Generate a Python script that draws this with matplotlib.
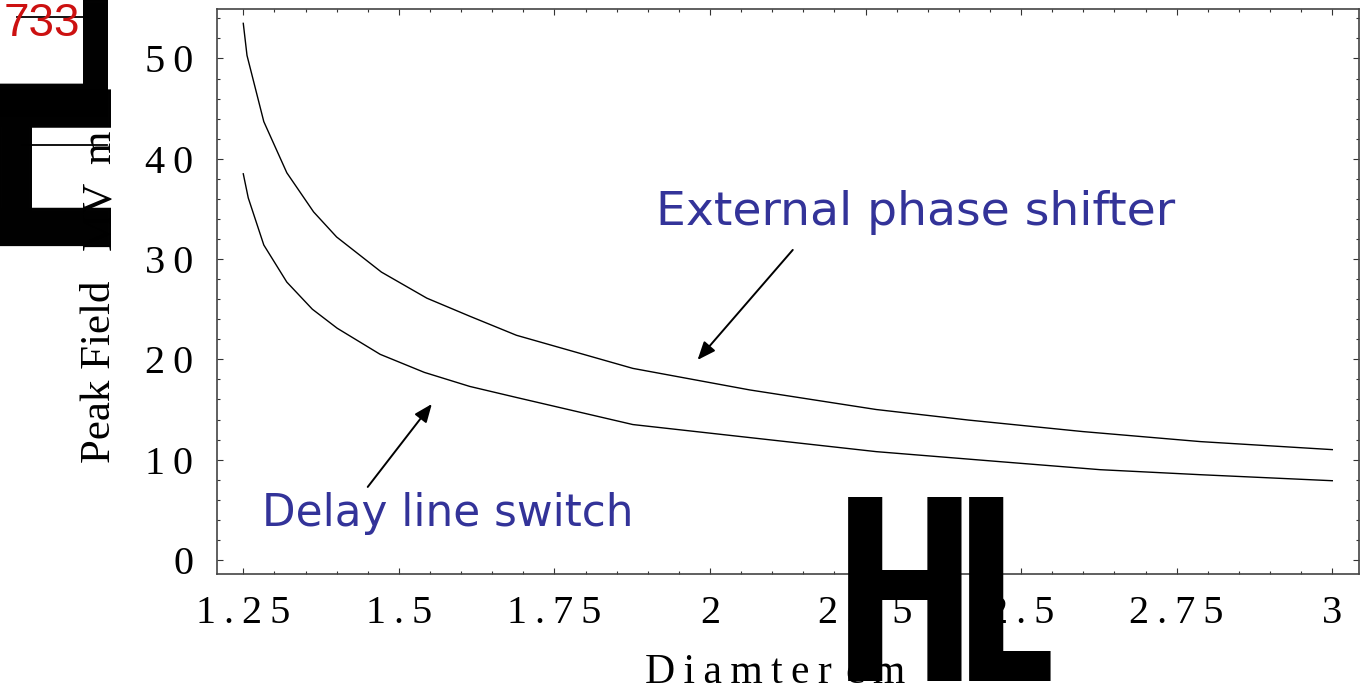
import os
import matplotlib
matplotlib.use('Agg')
import matplotlib.pyplot as plt
from matplotlib import font_manager as fm
from matplotlib.lines import Line2D
from matplotlib.ticker import FixedLocator, FixedFormatter, MultipleLocator

# curves
diam_ext = [1.25, 1.256, 1.283, 1.320, 1.363, 1.400, 1.472, 1.545, 1.614, 1.689,
            1.876, 2.064, 2.267, 2.415, 2.599, 2.788, 3.0]
field_ext = [53.5, 50.3, 43.7, 38.6, 34.7, 32.2, 28.7, 26.1, 24.3, 22.4,
             19.1, 16.95, 15.0, 13.95, 12.8, 11.8, 11.0]
diam_delay = [1.25, 1.258, 1.283, 1.320, 1.361, 1.401, 1.470, 1.541, 1.614, 1.689,
              1.876, 2.064, 2.267, 2.466, 2.627, 2.788, 3.0]
field_delay = [38.5, 36.1, 31.4, 27.7, 25.0, 23.1, 20.5, 18.7, 17.3, 16.2,
               13.5, 12.2, 10.8, 9.8, 9.0, 8.5, 7.9]

xticks = [1.25, 1.5, 1.75, 2.0, 2.25, 2.5, 2.75, 3.0]
xtick_labels = ['1.25', '1.5', '1.75', '2', '2.25', '2.5', '2.75', '3']
yticks = [0, 10, 20, 30, 40, 50]
ytick_labels = ['0', '10', '20', '30', '40', '50']

ext_label = 'External phase shifter'
delay_label = 'Delay line switch'

W, H = 1362, 686
SP = '\u2009'
SERIF = ['Liberation Serif', 'DejaVu Serif']
BLUE = '#333399'


def spaced(s):
    return SP.join(s)


def fx(px):
    return px / W


def fy(py):
    return 1 - py / H


# a narrow bold face for the big broken bracket glyphs, if one is installed
def narrow_bold(size):
    files = {os.path.basename(f): f for f in fm.findSystemFonts()}
    for name in ['LiberationSansNarrow-Bold.ttf', 'NotoSans-ExtraCondensedBold.ttf',
                 'NotoSans-CondensedBold.ttf', 'OpenSans-CondBold.ttf',
                 'DejaVuSansCondensed-Bold.ttf']:
        if name in files:
            return fm.FontProperties(fname=files[name], size=size)
    return fm.FontProperties(family=['Liberation Sans', 'DejaVu Sans'],
                             weight='bold', size=size)


fig = plt.figure(figsize=(W / 100, H / 100), dpi=100)
ax = fig.add_axes([fx(216.7), fy(573.7), (1359.3 - 216.7) / W, (573.7 - 9.3) / H])

ax.plot(diam_ext, field_ext, color='black', lw=1.0)
ax.plot(diam_delay, field_delay, color='black', lw=1.0)

ax.set_xlim(1.2073, 3.0434)
ax.set_ylim(-1.37, 54.9)

ax.xaxis.set_major_locator(FixedLocator(xticks))
ax.xaxis.set_major_formatter(FixedFormatter([spaced(t) for t in xtick_labels]))
ax.xaxis.set_minor_locator(MultipleLocator(0.05))
ax.yaxis.set_major_locator(FixedLocator(yticks))
ax.yaxis.set_major_formatter(FixedFormatter([spaced(t) for t in ytick_labels]))
ax.yaxis.set_minor_locator(MultipleLocator(2))

ax.tick_params(which='both', direction='in', top=True, right=True,
               color='#333333', width=0.8)
ax.tick_params(which='major', length=4.5)
ax.tick_params(which='minor', length=2.5)
ax.tick_params(axis='x', pad=15)
ax.tick_params(axis='y', pad=17)
for lab in ax.get_xticklabels() + ax.get_yticklabels():
    lab.set_family(SERIF)
    lab.set_fontsize(29)
for sp in ax.spines.values():
    sp.set_color('#444444')
    sp.set_linewidth(1.2)

# annotations
arrow = dict(arrowstyle='-|>,head_length=1.1,head_width=0.45',
             color='black', lw=1.4, shrinkA=0, shrinkB=0)
ax.annotate('', xy=(1.980, 19.94), xytext=(2.133, 30.91), arrowprops=arrow)
ax.annotate('', xy=(1.553, 15.55), xytext=(1.450, 7.28), arrowprops=arrow)
ax.text(1.913, 34.6, ext_label, color=BLUE, fontsize=34, va='center', ha='left',
        family='DejaVu Sans')
ax.text(1.280, 4.6, delay_label, color=BLUE, fontsize=31.5, va='center', ha='left',
        family='DejaVu Sans')

# axis labels (with the broken bracket glyphs of the original export)
fig.text(fx(645), fy(683), spaced('Diamter'), family=SERIF, fontsize=30,
         ha='left', va='baseline')
fig.text(fx(846), fy(683), spaced('cm'), family=SERIF, fontsize=30,
         ha='left', va='baseline')
fig.text(fx(832), fy(681), 'H', fontproperties=narrow_bold(185),
         ha='left', va='baseline')
fig.text(fx(953), fy(681), 'L', fontproperties=narrow_bold(185),
         ha='left', va='baseline')

fig.text(fx(110), fy(463), 'Peak Field', family=SERIF, fontsize=31,
         rotation=90, rotation_mode='anchor', ha='left', va='baseline')
fig.text(fx(110), fy(250), 'MV', family=SERIF, fontsize=31,
         rotation=90, rotation_mode='anchor', ha='left', va='baseline')
fig.text(fx(110), fy(164), 'm', family=SERIF, fontsize=31,
         rotation=90, rotation_mode='anchor', ha='left', va='baseline')
side = ['Liberation Sans', 'DejaVu Sans']
fig.text(fx(94), fy(246), 'H', family=side, weight='bold', fontsize=192,
         rotation=90, rotation_mode='anchor', ha='left', va='baseline')
fig.text(fx(94), fy(116), 'L', family=side, weight='bold', fontsize=165,
         rotation=90, rotation_mode='anchor', ha='left', va='baseline')
fig.add_artist(Line2D([fx(22), fx(107)], [fy(145), fy(145)], color='black', lw=1.3))
fig.add_artist(Line2D([fx(17), fx(88)], [fy(17), fy(17)], color='black', lw=1.3))

fig.text(fx(4), fy(36), '733', color='#cc1111', fontsize=33,
         family=['Liberation Sans', 'DejaVu Sans'], ha='left', va='baseline')

fig.savefig('out.png', dpi=100)
